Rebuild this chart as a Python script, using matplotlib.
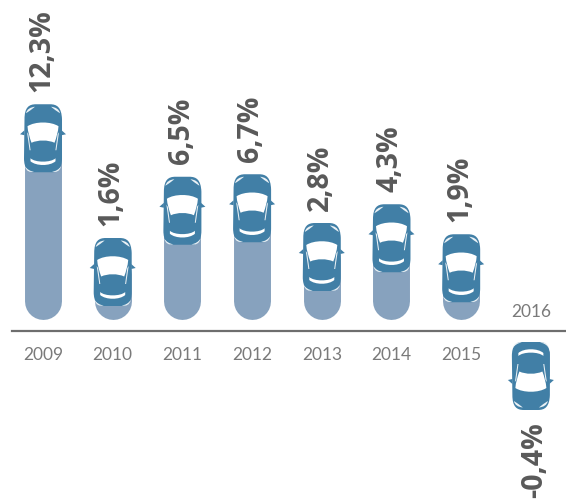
import matplotlib
matplotlib.use('Agg')
import matplotlib.pyplot as plt
from matplotlib.path import Path
from matplotlib.patches import PathPatch, Polygon
from matplotlib.transforms import Affine2D

years = ['2009', '2010', '2011', '2012', '2013', '2014', '2015', '2016']
values = [12.3, 1.6, 6.5, 6.7, 2.8, 4.3, 1.9, -0.4]
labels = ['12,3%', '1,6%', '6,5%', '6,7%', '2,8%', '4,3%', '1,9%', '-0,4%']

car_col = '#417FA6'
bar_col = '#87A2BE'
text_col = '#595959'
year_col = '#7A7A7A'
DPI = 100
M, L, C, Z = Path.MOVETO, Path.LINETO, Path.CURVE4, Path.CLOSEPOLY


def mirrored(pts, codes):
    # same shape on the other side of the car
    return [(-x, y) for x, y in pts], codes


body = ([(-7, 0), (7, 0), (14, 0), (18.5, 3), (19, 15), (19, 54), (19, 64), (15, 68), (9, 68),
         (-9, 68), (-15, 68), (-19, 64), (-19, 54), (-18.5, 15), (-18.5, 3), (-14, 0), (-7, 0), (-7, 0)],
        [M, L, C, C, C, L, C, C, C, L, C, C, C, L, C, C, C, Z])
windshield = ([(-15.5, 22), (-8, 17), (8, 17), (15.5, 22), (15, 28), (13.5, 33), (11.5, 38.5),
               (5, 35.5), (-5, 35.5), (-11.5, 38.5), (-13.5, 33), (-15, 28), (-15.5, 22), (-15.5, 22)],
              [M, C, C, C, C, C, C, C, C, C, C, C, C, Z])
rear = ([(-12.5, 54), (-8, 58.5), (8, 58.5), (12.5, 54), (12.5, 57), (7, 62), (-7, 62), (-12.5, 57), (-12.5, 54), (-12.5, 54)],
        [M, C, C, C, L, C, C, C, L, Z])
side = ([(-16, 28), (-14.6, 30), (-12.4, 46), (-13.4, 46), (-16, 28), (-16, 28)], [M, L, L, L, L, Z])
lamp = ([(-17, 9), (-16, 5), (-13, 3), (-8, 2.5), (-11, 5), (-14, 7), (-17, 9), (-17, 9)], [M, C, C, C, C, C, C, Z])
tail = ([(-18, 62), (-16, 65), (-13, 67), (-9, 67.5), (-13, 68.5), (-17, 67), (-18, 62), (-18, 62)], [M, C, C, C, C, C, C, Z])
mirror = [(18.5, 26), (23, 30), (18.5, 31)]


def draw_car(ax, x, y, up):
    # x,y = nose of the car in pixels, sizes in pixels too
    tr = Affine2D().scale(1, 1 if up else -1).translate(x, y)
    ax.add_patch(PathPatch(Path(*body), fc=car_col, ec='none', transform=tr, zorder=3))
    for sgn in (1, -1):
        pts = [(sgn * a, b) for a, b in mirror]
        ax.add_patch(Polygon(pts, fc=car_col, ec='none', transform=tr, zorder=3))
    ax.add_patch(PathPatch(Path(*windshield), fc='white', ec='none', transform=tr, zorder=4))
    ax.add_patch(PathPatch(Path(*rear), fc='white', ec='none', transform=tr, zorder=4))
    for shp in (side, mirrored(*side), lamp, mirrored(*lamp), tail, mirrored(*tail)):
        ax.add_patch(PathPatch(Path(*shp), fc='#EAF1F5', ec='none', transform=tr, zorder=4))


fig = plt.figure(figsize=(5.66, 4.99), dpi=DPI)
ax = fig.add_axes([0, 0, 1, 1])
ax.set_xlim(-0.617, 7.504)
ax.set_ylim(-13.44, 26.48)
ax.axis('off')

ax.axhline(0, xmin=12 / 566, xmax=1, color='#6E6E6E', lw=1.6, zorder=1)

for i, (yr, v, lab) in enumerate(zip(years, values, labels)):
    px, py = ax.transData.transform((i, v))
    if v > 0:
        ax.plot([i, i], [2.42, v + 3], color=bar_col, lw=26.6, solid_capstyle='round', zorder=2)
        draw_car(ax, px, py + 73, False)
        ax.annotate(lab, (i, v), xytext=(-1, 61.5), textcoords='offset points', rotation=90, ha='center', va='bottom',
                    fontsize=20.5, fontweight='bold', family='Open Sans', color=text_col)
        ax.annotate(yr, (i, 0), xytext=(0, -17), textcoords='offset points', ha='center', va='center',
                    fontsize=12.5, family='Lato', color=year_col)
    else:
        ax.plot([i, i], [-3.6, -1.6], color=bar_col, lw=26.6, solid_capstyle='butt', zorder=2)
        draw_car(ax, px, py - 74, True)
        ax.annotate(lab, (i, v), xytext=(2.5, -62), textcoords='offset points', rotation=90, ha='center', va='top',
                    fontsize=20.5, fontweight='bold', family='Open Sans', color=text_col)
        ax.annotate(yr, (i, 0), xytext=(0, 13.5), textcoords='offset points', ha='center', va='center',
                    fontsize=12.5, family='Lato', color=year_col)

fig.savefig('out.png', dpi=DPI)
